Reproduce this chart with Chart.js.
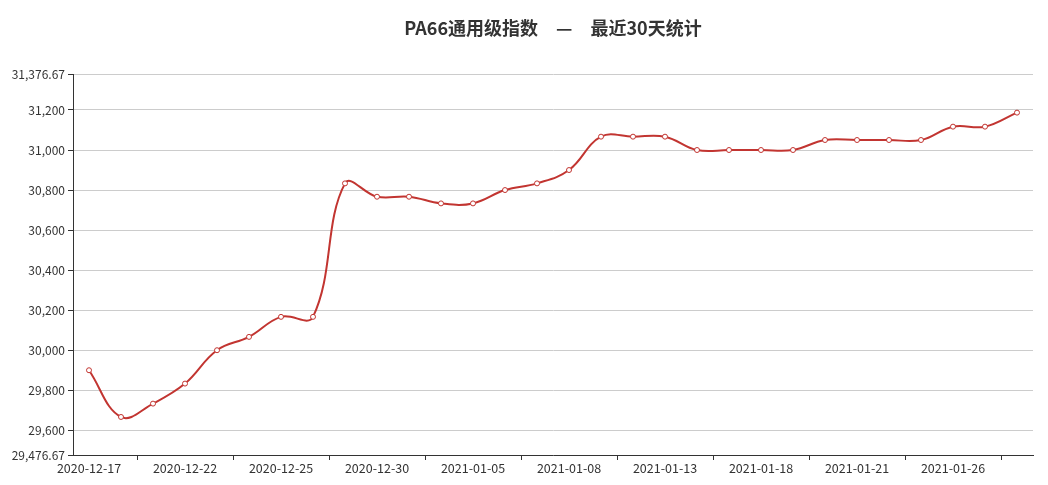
<!DOCTYPE html>
<html>
<head>
<meta charset="utf-8">
<script src="https://cdn.jsdelivr.net/npm/chart.js@4/dist/chart.umd.min.js"></script>
<style>
    html, body { margin: 0; padding: 0; background: #fff; }
    #wrap { width: 1048px; height: 485px; }
</style>
</head>
<body>
<div id="wrap"><canvas id="price-chart" width="1048" height="485"></canvas></div>
<script>
const dates = [
    '2020-12-17', '2020-12-18', '2020-12-21', '2020-12-22', '2020-12-23', '2020-12-24',
    '2020-12-25', '2020-12-28', '2020-12-29', '2020-12-30', '2020-12-31', '2021-01-04',
    '2021-01-05', '2021-01-06', '2021-01-07', '2021-01-08', '2021-01-11', '2021-01-12',
    '2021-01-13', '2021-01-14', '2021-01-15', '2021-01-18', '2021-01-19', '2021-01-20',
    '2021-01-21', '2021-01-22', '2021-01-25', '2021-01-26', '2021-01-27', '2021-01-28',
];

const prices = [
    29900, 29666.67, 29733.33, 29833.33, 30000, 30066.67,
    30166.67, 30166.67, 30833.33, 30766.67, 30766.67, 30733.33,
    30733.33, 30800, 30833.33, 30900, 31066.67, 31066.67,
    31066.67, 31000, 31000, 31000, 31000, 31050,
    31050, 31050, 31050, 31116.67, 31116.67, 31186.67,
];

const yTicks = [29476.67, 29600, 29800, 30000, 30200, 30400, 30600, 30800, 31000, 31200, 31376.67];

const titleText = 'PA66通用级指数　—　最近30天统计';
const lineColor = '#c23531';
const fontFamily = "'Noto Sans CJK SC', 'Noto Sans', sans-serif";

const ctx = document.getElementById('price-chart');

new Chart(ctx, {
    type: 'line',
    data: {
        labels: dates,
        datasets: [{
            data: prices,
            borderColor: lineColor,
            borderWidth: 2,
            tension: 0.4,
            pointRadius: 2.5,
            pointBorderWidth: 1,
            pointBorderColor: lineColor,
            pointBackgroundColor: '#fff',
        }],
    },
    options: {
        responsive: false,
        animation: false,
        layout: {
            padding: { left: 0, right: 15, top: 0, bottom: 0 },
        },
        plugins: {
            legend: { display: false },
            tooltip: { enabled: false },
            title: {
                display: true,
                fullSize: false,
                text: titleText,
                color: '#333',
                font: { family: fontFamily, size: 18, weight: 'bold' },
                padding: { top: 17, bottom: 36 },
            },
        },
        scales: {
            x: {
                type: 'category',
                offset: true,
                border: { color: '#333', width: 1 },
                grid: {
                    offset: true,
                    drawOnChartArea: false,
                    drawTicks: true,
                    tickLength: 5,
                    tickColor: (c) => (c.index % 3 === 2 ? '#333' : 'rgba(0,0,0,0)'),
                },
                ticks: {
                    autoSkip: false,
                    maxRotation: 0,
                    minRotation: 0,
                    padding: 1,
                    color: '#333',
                    font: { family: fontFamily, size: 12.5 },
                    callback: (value, index) => (index % 3 === 0 ? dates[index] : ''),
                },
                afterFit: (scale) => {
                    scale.height = 30;
                },
            },
            y: {
                min: yTicks[0],
                max: yTicks[yTicks.length - 1],
                border: { color: '#333', width: 1 },
                grid: {
                    color: '#ccc',
                    tickColor: '#333',
                    tickLength: 5,
                },
                ticks: {
                    padding: 3,
                    color: '#333',
                    font: { family: fontFamily, size: 12 },
                    callback: (value) => value.toLocaleString('en-US', { maximumFractionDigits: 2 }),
                },
                afterBuildTicks: (scale) => {
                    scale.ticks = yTicks.map((v) => ({ value: v }));
                },
                afterFit: (scale) => {
                    scale.width = 73;
                },
            },
        },
    },
});
</script>
</body>
</html>
